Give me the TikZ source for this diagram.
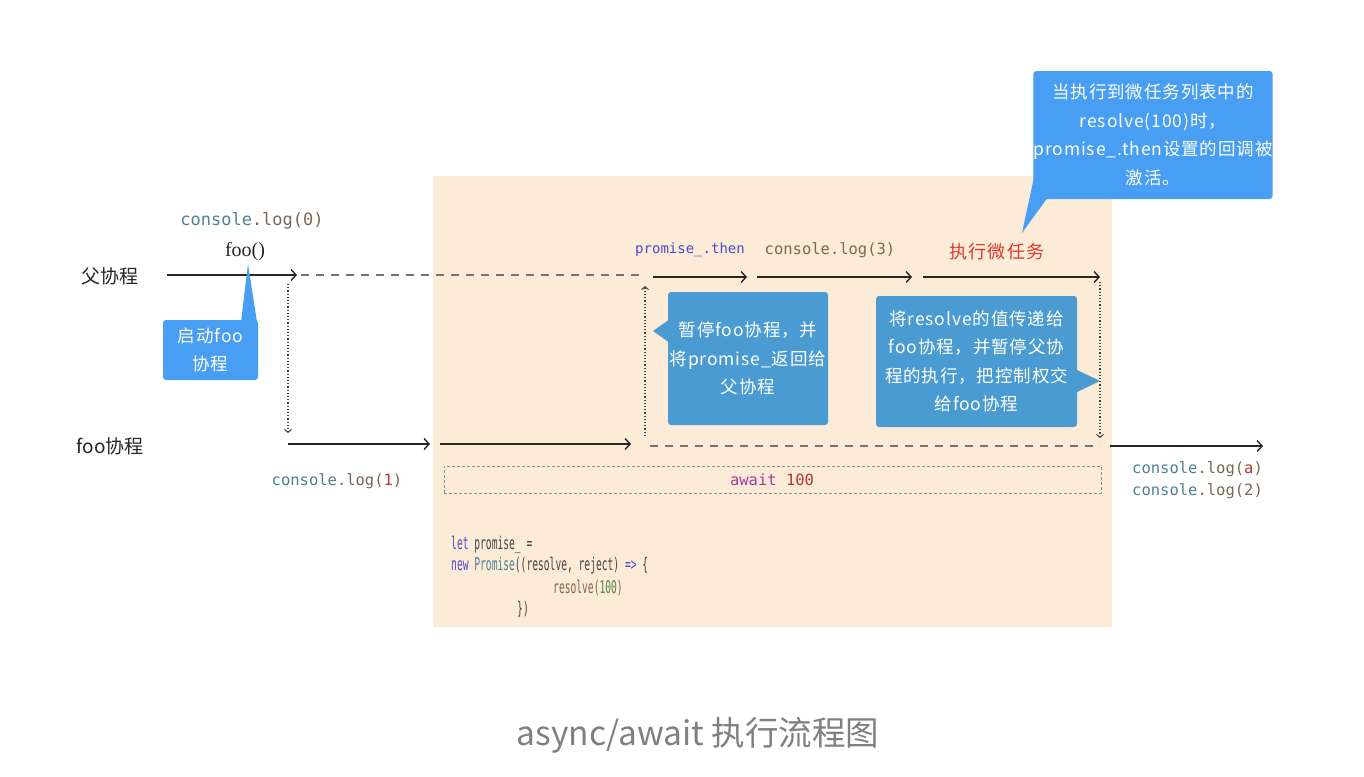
\documentclass[tikz,border=0pt]{standalone}
\usepackage{fontspec}
\usetikzlibrary{arrows.meta}
\newfontfamily\cjk{Noto Sans CJK SC}
\newfontfamily\cjkls{Noto Sans CJK SC}[LetterSpace=5]
\newfontfamily\cjkwide{Noto Sans CJK SC}[LetterSpace=8]
\newfontfamily\monof{DejaVu Sans Mono}
\newfontfamily\codef{DejaVu Sans Mono}[FakeStretch=0.55]
\newfontfamily\serf{Liberation Serif}
\definecolor{bgpeach}{HTML}{FCEBD7}
\definecolor{cbright}{HTML}{479EF2}
\definecolor{cdark}{HTML}{4A9BD1}
\definecolor{cteal}{HTML}{4E8196}
\definecolor{cbrown}{HTML}{7A6852}
\definecolor{cred}{HTML}{B8362F}
\definecolor{cblue}{HTML}{4B4BCB}
\definecolor{cmag}{HTML}{A33C9E}
\definecolor{cgreen}{HTML}{4C8A4A}
\definecolor{cdark2}{HTML}{444444}
\definecolor{tred}{HTML}{E03A2E}
\begin{document}
\begin{tikzpicture}[x=1pt,y=-1pt,
  solidarrow/.style={line width=1.4pt,draw=black!85,-{Straight Barb[length=5pt,width=11pt,line width=1.4pt]}},
  dashline/.style={line width=1.2pt,draw=black!55,dash pattern=on 8pt off 7pt},
  dotarrow/.style={line width=1.1pt,draw=black!75,dash pattern=on 1.2pt off 2pt,-{Straight Barb[length=3pt,width=7pt,line width=1pt]}},
  lane/.style={font=\cjk\fontsize{19}{22}\selectfont,text=black!85,inner sep=0pt},
  mono/.style={font=\monof\fontsize{15.5}{18}\selectfont,inner sep=0pt},
  codeline/.style={font=\codef\fontsize{17.5}{19}\selectfont,inner sep=0pt,anchor=west},
  callout/.style={font=\cjkls\fontsize{17.5}{28.5}\selectfont,text=white,align=center,inner sep=0pt,rounded corners=3pt},
]
\useasboundingbox (0,0) rectangle (1364,776);
\fill[white] (0,0) rectangle (1364,776);

% peach background
\fill[bgpeach] (433,176) rectangle (1112,627);

% lane labels
\node[lane] (lparent) at (110,276) {父协程};
\node[lane] (lfoo) at (110,446) {foo协程};

% coordinates
\coordinate (a0) at (167,275);
\coordinate (a1) at (297,275);
\coordinate (d0) at (301,275);
\coordinate (d1) at (640,275);
\coordinate (b0) at (653,277);
\coordinate (b1) at (747,277);
\coordinate (b2) at (757,277);
\coordinate (b3) at (912,277);
\coordinate (b4) at (923,277);
\coordinate (b5) at (1100,277);
\coordinate (v1t) at (288,284);
\coordinate (v1b) at (288,433);
\coordinate (f0) at (288,444);
\coordinate (f1) at (430,444);
\coordinate (f2) at (440,444);
\coordinate (f3) at (631,444);
\coordinate (e0) at (650,446);
\coordinate (e1) at (1100,446);
\coordinate (g0) at (1110,446);
\coordinate (g1) at (1263,446);
\coordinate (v2b) at (645,436);
\coordinate (v2t) at (645,286);
\coordinate (v3t) at (1100,282);
\coordinate (v3b) at (1100,438);

% parent lines
\draw[solidarrow] (a0) -- (a1);
\draw[dashline] (d0) -- (d1);
\draw[solidarrow] (b0) -- (b1);
\draw[solidarrow] (b2) -- (b3);
\draw[solidarrow] (b4) -- (b5);
% foo lines
\draw[solidarrow] (f0) -- (f1);
\draw[solidarrow] (f2) -- (f3);
\draw[dashline] (e0) -- (e1);
\draw[solidarrow] (g0) -- (g1);
% vertical dotted
\draw[dotarrow] (v1t) -- (v1b);
\draw[dotarrow] (v2b) -- (v2t);
\draw[dotarrow] (v3t) -- (v3b);

% labels on lines
\node[mono,font=\monof\fontsize{17}{19}\selectfont] (log0) at (252,221) {\textcolor{cteal}{console}\textcolor{cbrown}{.log(0)}};
\node[font=\serf\fontsize{20}{22}\selectfont,inner sep=0pt,text=black!85] (foocall) at (245,252) {foo()};
\node[mono] (log1) at (337,481) {\textcolor{cteal}{console}\textcolor{cbrown}{.log(}\textcolor{cred}{1}\textcolor{cbrown}{)}};
\node[mono,font=\monof\fontsize{14}{16}\selectfont] (pthen) at (690,250) {\textcolor{cblue}{promise\_.then}};
\node[mono] (log3) at (830,250) {\textcolor{cbrown}{console.log(3)}};
\node[font=\cjkwide\fontsize{18}{20}\selectfont,text=tred,inner sep=0pt] (micro) at (997,252) {执行微任务};
\node[mono,anchor=west] (loga) at (1132,469) {\textcolor{cteal}{console}\textcolor{cbrown}{.log(}\textcolor{cred}{a}\textcolor{cbrown}{)}};
\node[mono,anchor=west] (log2) at (1132,491) {\textcolor{cteal}{console}\textcolor{cbrown}{.log(2)}};

% await box
\node[draw=black!45,dash pattern=on 3pt off 2pt,line width=0.8pt,minimum width=657pt,minimum height=27pt,inner sep=0pt] (awaitbox) at (772.5,479.5) {};
\node[mono] (await) at (772,480) {\textcolor{cmag}{await} \textcolor{cred}{100}};

% code block
\node[codeline] (c1) at (451,545) {\textcolor{cblue}{let} \textcolor{cdark2}{promise\_ =}};
\node[codeline] (c2) at (451,566) {\textcolor{cblue}{new} \textcolor{cteal}{Promise}\textcolor{cdark2}{((resolve, reject)} \textcolor{cblue}{=>} \textcolor{cdark2}{\{}};
\node[codeline] (c3) at (553,588) {\textcolor{cbrown}{resolve(}\textcolor{cgreen}{100}\textcolor{cbrown}{)}};
\node[codeline] (c4) at (517,609) {\textcolor{cdark2}{\})}};

% callout 1: start foo
\fill[cbright] (241,322) -- (248,264) -- (257,322) -- cycle;
\node[callout,fill=cbright,minimum width=95pt,minimum height=60pt] (co1) at (210.5,350) {启动foo\\协程};

% callout 2: pause foo
\fill[cdark] (670,319) -- (653,331) -- (670,343) -- cycle;
\node[callout,fill=cdark,minimum width=160pt,minimum height=133pt] (co2) at (748,358.5) {暂停foo协程，并\\将promise\_返回给\\父协程};

% callout 3: pass resolve value
\fill[cdark] (1075,369) -- (1100,381) -- (1075,393) -- cycle;
\node[callout,fill=cdark,minimum width=201pt,minimum height=131pt] (co3) at (976.5,361.5) {将resolve的值传递给\\foo协程，并暂停父协\\程的执行，把控制权交\\给foo协程};

% callout 4: top
\fill[cbright] (1036,168) -- (1022,233) -- (1048,197) -- cycle;
\node[callout,fill=cbright,minimum width=236pt,minimum height=128pt] (co4) at (1153,135) {当执行到微任务列表中的\\resolve(100)时，\\promise\_.then设置的回调被\\激活。};

% title
\node[font=\cjk\fontsize{33.5}{38}\selectfont,text=black!50,inner sep=0pt] (title) at (698,735) {async/await 执行流程图};
\end{tikzpicture}
\end{document}
